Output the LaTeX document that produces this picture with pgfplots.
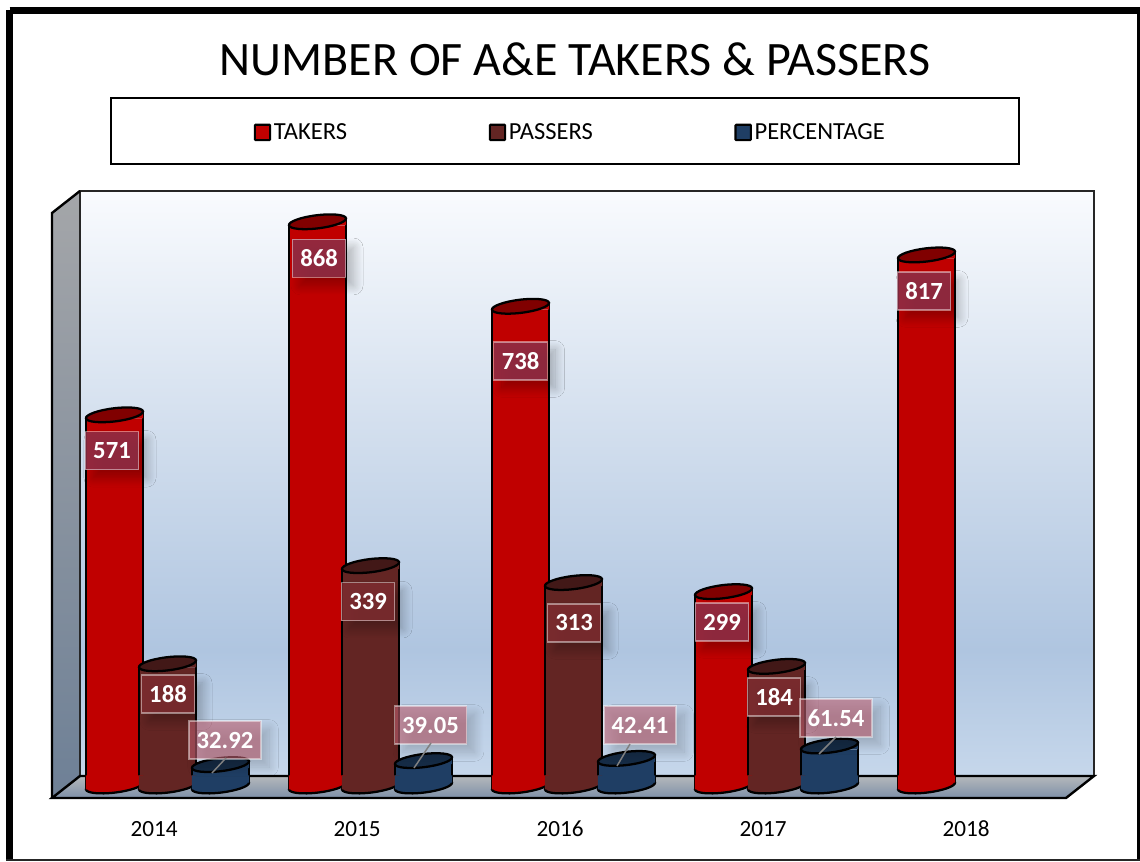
\documentclass[border=0pt]{standalone}
\usepackage{pgfplots}
\usepackage{pgfplotstable}
\pgfplotsset{compat=1.18}
\usepackage{fontspec}
\setmainfont{Carlito}
\usetikzlibrary{shadows.blur}
\definecolor{cred}{HTML}{C00000}
\definecolor{credtop}{HTML}{800000}
\definecolor{cbrown}{HTML}{632523}
\definecolor{cbrowntop}{HTML}{421817}
\definecolor{cblue}{HTML}{1F3E64}
\definecolor{cbluetop}{HTML}{152B45}
\definecolor{wallA}{HTML}{C6D7EB}
\definecolor{wallB}{HTML}{AFC5E0}
\definecolor{wallC}{HTML}{D3DFEE}
\definecolor{wallD}{HTML}{F9FBFE}
\definecolor{sideT}{HTML}{A4A6A9}
\definecolor{sideB}{HTML}{6E8096}
\definecolor{floorT}{HTML}{B5B8BB}
\definecolor{floorB}{HTML}{7E90A8}
\definecolor{cTakerLab}{HTML}{8E3048}
\definecolor{cPassLab}{HTML}{7E2C30}
\definecolor{cPctLab}{HTML}{BE6070}
\pgfdeclareverticalshading{wall}{100bp}{color(0bp)=(wallA);color(25bp)=(wallA);color(35.75bp)=(wallB);color(55bp)=(wallC);color(75bp)=(wallD);color(100bp)=(wallD)}
\pgfplotstableread{
year val
2014 571
2015 868
2016 738
2017 299
2018 817
}\takers
\pgfplotstableread{
year val
2014 188
2015 339
2016 313
2017 184
}\passers
\pgfplotstableread{
year val
2014 32.92
2015 39.05
2016 42.41
2017 61.54
}\percent
% marks
\pgfdeclareplotmark{cylell}{%
  \pgfpathellipse{\pgfqpoint{0pt}{0pt}}{\pgfqpoint{21.4pt}{2.6pt}}{\pgfqpoint{-.6pt}{4.9pt}}%
  \pgfusepathqfillstroke}
\pgfdeclareplotmark{cylbasefill}{%
  \pgfpathmoveto{\pgfqpoint{-21.4pt}{-2.6pt}}\pgfpathlineto{\pgfqpoint{21.4pt}{2.6pt}}%
  \pgfpathlineto{\pgfqpoint{21.4pt}{8pt}}\pgfpathlineto{\pgfqpoint{-21.4pt}{8pt}}\pgfpathclose\pgfusepathqfill}
\pgfdeclareplotmark{cyltopfill}{%
  \pgfpathmoveto{\pgfqpoint{-21.4pt}{-2.6pt}}\pgfpathlineto{\pgfqpoint{21.4pt}{-2.6pt}}%
  \pgfpathlineto{\pgfqpoint{21.4pt}{2.6pt}}\pgfpathclose\pgfusepathqfill}
% #1 table, #2 body colour, #3 top colour, #4 xshift
\newcommand\cylinder[4]{%
  \addplot[forget plot,only marks,xshift=#4,mark=cylell,mark options={fill=#2,draw=black,line width=1.7pt}] table[x=year,y expr=0]{#1};
  \addplot[forget plot,only marks,xshift=#4,mark=cylbasefill,mark options={fill=#2,draw=none}] table[x=year,y expr=0]{#1};
  \addplot[forget plot,ybar,bar width=42.8pt,bar shift=0pt,xshift=#4,yshift=2.6pt,fill=#2,draw=none,y filter/.expression={y-10.8}] table[x=year,y=val]{#1};
  \addplot[forget plot,only marks,xshift=#4,mark=cyltopfill,mark options={fill=#2,draw=none}] table[x=year,y=val]{#1};
  \addplot[forget plot,ycomb,no marks,xshift=#4-21.4pt,yshift=-2.6pt,black,line width=1.7pt] table[x=year,y=val]{#1};
  \addplot[forget plot,ycomb,no marks,xshift=#4+21.4pt,yshift=2.6pt,black,line width=1.7pt] table[x=year,y=val]{#1};
  \addplot[forget plot,only marks,xshift=#4,mark=cylell,mark options={fill=#3,draw=black,line width=1.7pt}] table[x=year,y=val]{#1};
}
% label: #1 year #2 value #3 dx px #4 dy px  #5 group xshift #6 fill #7 opacity #8 width
\newcommand\lab[8]{%
  \addplot[forget plot,only marks,mark=none,xshift=#5,
    nodes near coords={#2},
    every node near coord/.append style={anchor=center,xshift=0.75*#3,yshift=0.75*#4,
      font=\fontsize{18.5}{18.5}\selectfont\bfseries,text=white,text opacity=1,
      fill=#6,fill opacity=#7,draw=white,draw opacity=.45,line width=.9pt,
      minimum width=#8,minimum height=28.5pt,inner sep=0pt,
      blur shadow={shadow xshift=6pt,shadow yshift=-6pt,shadow blur radius=7pt,shadow blur steps=16,shadow opacity=32}}
  ] coordinates {(#1,#2)};
}
\newcommand\labT[4]{\lab{#1}{#2}{#3}{#4}{-39.75pt}{cTakerLab}{.85}{40pt}}
\newcommand\labP[4]{\lab{#1}{#2}{#3}{#4}{0pt}{cPassLab}{.85}{40pt}}
\newcommand\labC[4]{\lab{#1}{#2}{#3}{#4}{39.75pt}{cPctLab}{.6}{54pt}}
\begin{document}
\begin{tikzpicture}
\begin{scope}[x=0.75pt,y=-0.75pt,yshift=646.5pt]
  % frame
  \draw[line width=5.25pt,black] (9.5,10.5) -- (1145,10.5);
  \draw[line width=5.25pt,black] (9.5,10.5) -- (9.5,860);
  \draw[line width=5.25pt,black] (1140.5,10.5) -- (1140.5,860);
  \draw[line width=1.2pt,black!85] (6,860) -- (1140,860);
  % legend box
  \draw[line width=1.5pt,black] (110.5,98.5) rectangle (1019,164);
  % walls
  \shade[shading=wall] (80,191) rectangle (1094,776);
  \shade[top color=sideT,bottom color=sideB] (52,213) -- (80,191) -- (80,776) -- (52,798) -- cycle;
  \shade[top color=floorT,bottom color=floorB] (52,798) -- (80,776) -- (1094,776) -- (1066,798) -- cycle;
  \draw[line width=1.8pt,black!85] (80,776) -- (80,191) -- (1094,191) -- (1094,776);
  \draw[line width=1.8pt,black] (52,798) -- (52,213) -- (80,191);
  \draw[line width=1.8pt,black] (80,776) -- (1094,776) -- (1066,798) -- (52,798) -- cycle;
\end{scope}
\begin{axis}[
  at={(0,0)},anchor=south west,scale only axis,width=855pt,height=646.5pt,
  xmin=2013.1749,xmax=2018.7906,ymin=-116.9,ymax=1209.2,
  clip=false,
  axis line style={draw=none},tick style={draw=none},
  ytick=\empty,
  xtick={2014,2015,2016,2017,2018},
  xticklabels={2014,2015,2016,2017,2018},
  x tick label style={xshift=-10.1pt,yshift=34pt,text height=11.5pt,text depth=0pt,font=\fontsize{17.4}{17.4}\selectfont},
  title={NUMBER OF A\&E TAKERS \& PASSERS},
  title style={at={(0.5044,0.9219)},anchor=center,yshift=0pt,font=\fontsize{36}{36}\selectfont},
  legend style={at={(0.5005,0.846)},anchor=center,draw=none,fill=none,legend columns=3,
    font=\fontsize{18.4}{18.4}\selectfont,
    /tikz/every even column/.style={column sep=104.25pt}},
  legend cell align=left,
]
\addlegendimage{legend image code/.code={\draw[fill=cred,draw=black,line width=1.6pt,rounded corners=.6pt] (0.1cm,-5.5pt) rectangle ++(11.5pt,11.5pt);}}
\addlegendentry{TAKERS}
\addlegendimage{legend image code/.code={\draw[fill=cbrown,draw=black,line width=1.6pt,rounded corners=.6pt] (0.1cm,-5.5pt) rectangle ++(11.5pt,11.5pt);}}
\addlegendentry{PASSERS}
\addlegendimage{legend image code/.code={\draw[fill=cblue,draw=black,line width=1.6pt,rounded corners=.6pt] (0.1cm,-5.5pt) rectangle ++(11.5pt,11.5pt);}}
\addlegendentry{PERCENTAGE}
\cylinder{\takers}{cred}{credtop}{-39.75pt}
\cylinder{\passers}{cbrown}{cbrowntop}{0pt}
\cylinder{\percent}{cblue}{cbluetop}{39.75pt}
\labT{2014}{571}{-2.5}{-36}
\labT{2015}{868}{1.5}{-36.7}
\labT{2016}{738}{0}{-54.7}
\labT{2017}{299}{-1.5}{-30.3}
\labT{2018}{817}{-2.5}{-36}
\labP{2014}{188}{0.5}{-30.2}
\labP{2015}{339}{-2.5}{-36}
\labP{2016}{313}{0.5}{-40.4}
\labP{2017}{184}{-2.5}{-30.6}
\labC{2014}{32.92}{4.5}{24.6}
\labC{2015}{39.05}{7}{35.6}
\labC{2016}{42.41}{13.5}{33.4}
\labC{2017}{61.54}{6.5}{28}
\end{axis}
\begin{scope}[x=0.75pt,y=-0.75pt,yshift=646.5pt]
  \draw[gray,line width=1.1pt] (212,773) -- (226,758);
  \draw[gray,line width=1.1pt] (414,768) -- (431,743);
  \draw[gray,line width=1.1pt] (617,766) -- (630,744);
  \draw[gray,line width=1.1pt] (819,754) -- (836,737);
\end{scope}
\pgfresetboundingbox
\path (0,0) rectangle (855pt,646.5pt);
\end{tikzpicture}
\end{document}
